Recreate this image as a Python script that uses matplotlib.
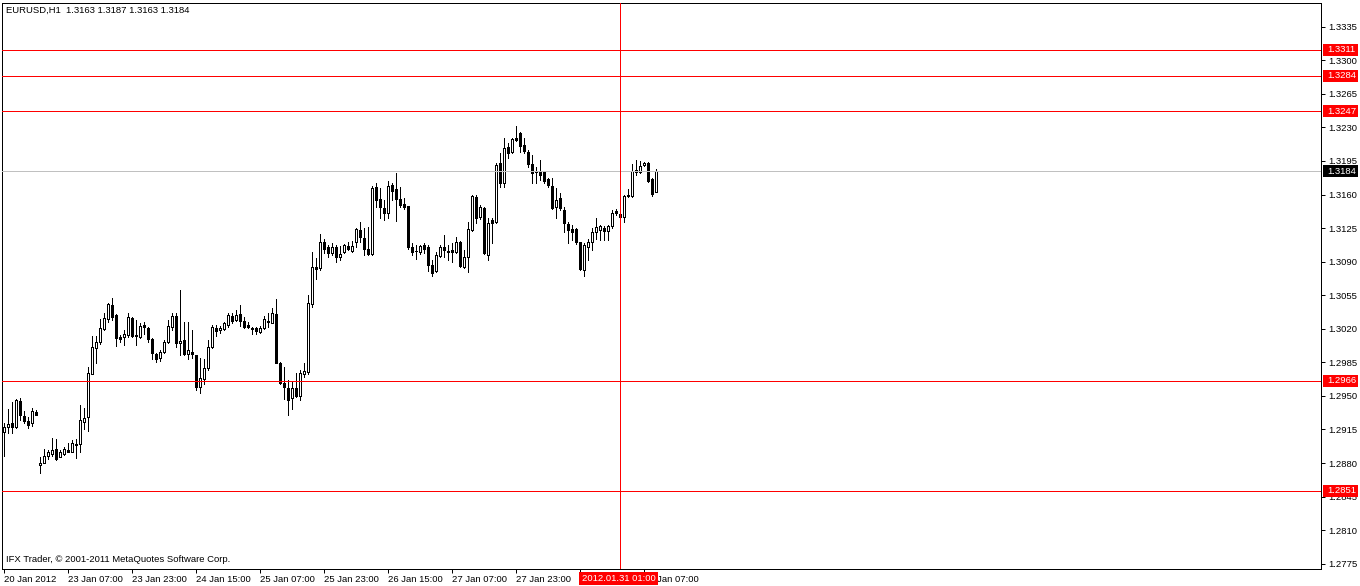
import numpy as np
import matplotlib.pyplot as plt
from matplotlib.patches import Rectangle
from matplotlib.transforms import blended_transform_factory, ScaledTranslation

# EURUSD H1 bars, 20 Jan 2012 15:00 .. 31 Jan 2012 10:00
opens = [1.2912, 1.2918, 1.2922, 1.2918, 1.2945, 1.2929, 1.2924, 1.2922, 1.2933,
         1.2878, 1.2880, 1.2887, 1.2889, 1.2895, 1.2886, 1.2889, 1.2894, 1.2891, 1.2900,
         1.2900, 1.2923, 1.2928, 1.2973, 1.3000, 1.3006, 1.3020, 1.3030, 1.3045, 1.3034,
         1.3011, 1.3011, 1.3013, 1.3031, 1.3013, 1.3011, 1.3024, 1.3021, 1.3009, 1.2994,
         1.2990, 1.2996, 1.3006, 1.3022, 1.3033, 1.3005, 1.3008, 1.2994, 1.2996, 1.2993,
         1.2959, 1.2968, 1.2979, 1.3001, 1.3021, 1.3019, 1.3020, 1.3024, 1.3033, 1.3029,
         1.3035, 1.3028, 1.3024, 1.3021, 1.3021, 1.3017, 1.3021, 1.3028, 1.3026, 1.3035,
         1.2984, 1.2963, 1.2958, 1.2948, 1.2958, 1.2950, 1.2973, 1.2975, 1.3046, 1.3084,
         1.3083, 1.3110, 1.3105, 1.3099, 1.3105, 1.3095, 1.3100, 1.3106, 1.3101, 1.3110,
         1.3123, 1.3115, 1.3103, 1.3098, 1.3168, 1.3155, 1.3146, 1.3141, 1.3170, 1.3166,
         1.3155, 1.3150, 1.3148, 1.3105, 1.3101, 1.3100, 1.3107, 1.3105, 1.3087, 1.3080,
         1.3096, 1.3105, 1.3101, 1.3102, 1.3100, 1.3110, 1.3084, 1.3095, 1.3123, 1.3157,
         1.3137, 1.3146, 1.3097, 1.3133, 1.3131, 1.3193, 1.3172, 1.3210, 1.3204, 1.3219,
         1.3224, 1.3212, 1.3204, 1.3192, 1.3185, 1.3185, 1.3183, 1.3176, 1.3169, 1.3147,
         1.3156, 1.3144, 1.3129, 1.3124, 1.3124, 1.3110, 1.3081, 1.3105, 1.3111, 1.3121,
         1.3123, 1.3125, 1.3122, 1.3127, 1.3143, 1.3140, 1.3137, 1.3158, 1.3158, 1.3183,
         1.3183, 1.3191, 1.3193, 1.3176, 1.3163]
highs = [1.2922, 1.2936, 1.2944, 1.2947, 1.2948, 1.2934, 1.2928, 1.2937, 1.2935,
         1.2886, 1.2895, 1.2894, 1.2906, 1.2905, 1.2894, 1.2897, 1.2901, 1.2904, 1.2905,
         1.2941, 1.2937, 1.2980, 1.3012, 1.3012, 1.3030, 1.3036, 1.3047, 1.3052, 1.3035,
         1.3013, 1.3019, 1.3036, 1.3032, 1.3029, 1.3026, 1.3027, 1.3022, 1.3010, 1.2995,
         1.2998, 1.3008, 1.3029, 1.3036, 1.3036, 1.3060, 1.3027, 1.3027, 1.3019, 1.2993,
         1.2990, 1.2988, 1.3008, 1.3024, 1.3024, 1.3023, 1.3027, 1.3036, 1.3036, 1.3040,
         1.3045, 1.3032, 1.3027, 1.3022, 1.3022, 1.3023, 1.3033, 1.3036, 1.3042, 1.3051,
         1.2985, 1.2980, 1.2967, 1.2964, 1.2974, 1.2977, 1.2984, 1.3055, 1.3100, 1.3094,
         1.3119, 1.3114, 1.3107, 1.3109, 1.3107, 1.3106, 1.3108, 1.3110, 1.3112, 1.3125,
         1.3131, 1.3125, 1.3126, 1.3169, 1.3172, 1.3167, 1.3154, 1.3174, 1.3172, 1.3182,
         1.3168, 1.3156, 1.3148, 1.3109, 1.3107, 1.3107, 1.3109, 1.3107, 1.3092, 1.3100,
         1.3107, 1.3118, 1.3107, 1.3109, 1.3116, 1.3112, 1.3102, 1.3131, 1.3159, 1.3159,
         1.3149, 1.3147, 1.3136, 1.3135, 1.3193, 1.3203, 1.3219, 1.3214, 1.3219, 1.3231,
         1.3225, 1.3219, 1.3206, 1.3201, 1.3189, 1.3196, 1.3184, 1.3177, 1.3177, 1.3167,
         1.3162, 1.3147, 1.3131, 1.3128, 1.3125, 1.3111, 1.3109, 1.3114, 1.3125, 1.3136,
         1.3128, 1.3127, 1.3128, 1.3144, 1.3145, 1.3144, 1.3160, 1.3166, 1.3192, 1.3196,
         1.3195, 1.3194, 1.3194, 1.3177, 1.3187]
lows = [1.2887, 1.2911, 1.2911, 1.2917, 1.2925, 1.2922, 1.2917, 1.2919, 1.2930,
        1.2870, 1.2880, 1.2884, 1.2887, 1.2883, 1.2886, 1.2888, 1.2892, 1.2891, 1.2885,
        1.2891, 1.2915, 1.2913, 1.2973, 1.2984, 1.3004, 1.3019, 1.3027, 1.3029, 1.3002,
        1.3006, 1.3003, 1.3011, 1.3011, 1.3003, 1.3010, 1.3015, 1.3006, 1.2988, 1.2985,
        1.2986, 1.2995, 1.3005, 1.3019, 1.3001, 1.2993, 1.2993, 1.2988, 1.2990, 1.2956,
        1.2953, 1.2962, 1.2977, 1.3000, 1.3012, 1.3016, 1.3019, 1.3022, 1.3026, 1.3028,
        1.3023, 1.3021, 1.3021, 1.3015, 1.3015, 1.3016, 1.3020, 1.3022, 1.3026, 1.2984,
        1.2962, 1.2947, 1.2930, 1.2936, 1.2949, 1.2946, 1.2970, 1.2973, 1.3043, 1.3072,
        1.3081, 1.3099, 1.3095, 1.3097, 1.3090, 1.3092, 1.3099, 1.3102, 1.3100, 1.3105,
        1.3110, 1.3097, 1.3097, 1.3097, 1.3147, 1.3136, 1.3133, 1.3136, 1.3154, 1.3132,
        1.3147, 1.3145, 1.3103, 1.3097, 1.3093, 1.3098, 1.3099, 1.3080, 1.3075, 1.3079,
        1.3095, 1.3095, 1.3092, 1.3090, 1.3099, 1.3084, 1.3083, 1.3079, 1.3122, 1.3130,
        1.3134, 1.3098, 1.3092, 1.3109, 1.3130, 1.3168, 1.3168, 1.3198, 1.3203, 1.3216,
        1.3204, 1.3203, 1.3189, 1.3172, 1.3172, 1.3175, 1.3172, 1.3168, 1.3145, 1.3135,
        1.3144, 1.3121, 1.3109, 1.3113, 1.3108, 1.3081, 1.3075, 1.3092, 1.3102, 1.3114,
        1.3113, 1.3113, 1.3113, 1.3125, 1.3139, 1.3136, 1.3131, 1.3157, 1.3157, 1.3180,
        1.3182, 1.3190, 1.3173, 1.3158, 1.3163]
closes = [1.2918, 1.2921, 1.2918, 1.2946, 1.2930, 1.2924, 1.2920, 1.2934, 1.2930,
          1.2880, 1.2887, 1.2891, 1.2894, 1.2884, 1.2891, 1.2895, 1.2892, 1.2901, 1.2899,
          1.2925, 1.2927, 1.2974, 1.3001, 1.3006, 1.3021, 1.3031, 1.3046, 1.3032, 1.3010,
          1.3009, 1.3015, 1.3032, 1.3012, 1.3012, 1.3023, 1.3022, 1.3009, 1.2995, 1.2988,
          1.2996, 1.3006, 1.3023, 1.3033, 1.3005, 1.3007, 1.2994, 1.2998, 1.2994, 1.2959,
          1.2969, 1.2979, 1.3001, 1.3022, 1.3018, 1.3021, 1.3026, 1.3034, 1.3028, 1.3034,
          1.3028, 1.3022, 1.3022, 1.3020, 1.3018, 1.3021, 1.3030, 1.3027, 1.3036, 1.2984,
          1.2963, 1.2959, 1.2946, 1.2958, 1.2950, 1.2974, 1.2976, 1.3047, 1.3084, 1.3082,
          1.3110, 1.3103, 1.3099, 1.3105, 1.3095, 1.3098, 1.3107, 1.3103, 1.3106, 1.3124,
          1.3116, 1.3103, 1.3098, 1.3167, 1.3154, 1.3147, 1.3141, 1.3169, 1.3164, 1.3155,
          1.3149, 1.3147, 1.3105, 1.3100, 1.3101, 1.3106, 1.3103, 1.3087, 1.3078, 1.3097,
          1.3105, 1.3102, 1.3100, 1.3100, 1.3110, 1.3085, 1.3095, 1.3124, 1.3158, 1.3135,
          1.3147, 1.3099, 1.3130, 1.3130, 1.3191, 1.3172, 1.3208, 1.3203, 1.3218, 1.3217,
          1.3211, 1.3205, 1.3192, 1.3182, 1.3183, 1.3180, 1.3174, 1.3170, 1.3146, 1.3154,
          1.3146, 1.3130, 1.3123, 1.3121, 1.3110, 1.3082, 1.3107, 1.3111, 1.3121, 1.3126,
          1.3127, 1.3122, 1.3127, 1.3141, 1.3141, 1.3137, 1.3158, 1.3160, 1.3185, 1.3186,
          1.3190, 1.3193, 1.3174, 1.3161, 1.3184]

date_ticks = [0, 16, 32, 48, 64, 80, 96, 112, 128, 144, 160]
date_labels = ['20 Jan 2012', '23 Jan 07:00', '23 Jan 23:00', '24 Jan 15:00', '25 Jan 07:00',
               '25 Jan 23:00', '26 Jan 15:00', '27 Jan 07:00', '27 Jan 23:00', '',
               '31 Jan 07:00']
price_ticks = [1.3335, 1.3300, 1.3265, 1.3230, 1.3195, 1.3160, 1.3125, 1.3090, 1.3055,
               1.3020, 1.2985, 1.2950, 1.2915, 1.2880, 1.2845, 1.2810, 1.2775]
red_levels = [1.3311, 1.3284, 1.3247, 1.2966, 1.2851]
bid = 1.3184
cross_bar = 154
cross_label = '2012.01.31 01:00'
title = 'EURUSD,H1  1.3163 1.3187 1.3163 1.3184'
footer = 'IFX Trader, \u00a9 2001-2011 MetaQuotes Software Corp.'

plt.rcParams['font.family'] = ['Liberation Sans', 'DejaVu Sans']
fs = 6.8
px = 0.72  # one pixel in points at 100 dpi

fig = plt.figure(figsize=(13.6, 5.86), dpi=100)
ax = fig.add_axes([2 / 1360, 17 / 586, 1319 / 1360, 566 / 586])

o = np.array(opens)
h = np.array(highs)
l = np.array(lows)
c = np.array(closes)
x = np.arange(len(o))
up = c >= o

# candles: wick then body
ax.vlines(x, l, h, color='black', lw=px, zorder=2, antialiased=False)
body_bottom = np.minimum(o, c)
body_height = np.maximum(np.abs(c - o), 0.00002)
ax.bar(x, body_height, 0.5, body_bottom, color=np.where(up, 'white', 'black'),
       edgecolor='black', linewidth=px, zorder=3, antialiased=False)

# objects on top of the chart
for lev in red_levels:
    ax.axhline(lev, color='red', lw=px, zorder=4, antialiased=False)
ax.axhline(bid, color='#c0c0c0', lw=px, zorder=4, antialiased=False)
ax.axvline(cross_bar, color='red', lw=px, zorder=4, antialiased=False)

ax.set_xlim(-0.5, 329.25)
ax.set_ylim(1.27695, 1.33597)

ax.yaxis.tick_right()
ax.set_yticks(price_ticks, ['%.4f' % p for p in price_ticks])
ax.set_xticks(date_ticks, date_labels)
shift = ScaledTranslation(-2 / 100, 0, fig.dpi_scale_trans)
for lab in ax.get_xticklabels():
    lab.set_ha('left')
    lab.set_transform(lab.get_transform() + shift)
ax.tick_params(axis='y', length=3, width=px, pad=2, labelsize=fs)
ax.tick_params(axis='x', length=3, width=px, pad=1, labelsize=fs)
for s in ax.spines.values():
    s.set_linewidth(px)

# price labels on the right scale
ty = blended_transform_factory(ax.transAxes, ax.transData)
box_h = 12 / 9590
for lev, col in [(v, 'red') for v in red_levels] + [(bid, 'black')]:
    ax.add_patch(Rectangle((1.0015, lev - box_h / 2), 0.0265, box_h, transform=ty,
                           facecolor=col, edgecolor='none', clip_on=False, zorder=10))
    ax.text(1.0045, lev, '%.4f' % lev, transform=ty, color='white', fontsize=fs,
            va='center', ha='left', clip_on=False, zorder=11)

# crosshair time label
tx = blended_transform_factory(ax.transData, ax.transAxes)
ax.add_patch(Rectangle((143.75, -0.0283), 19.75, 0.023, transform=tx, facecolor='red',
                       edgecolor='none', clip_on=False, zorder=10))
ax.text(cross_bar - 0.3, -0.0168, cross_label, transform=tx, color='white', fontsize=fs,
        ha='center', va='center', clip_on=False, zorder=11)

ax.text(0.003, 0.9876, title, transform=ax.transAxes, fontsize=fs, va='center', ha='left')
ax.text(0.003, 0.016, footer, transform=ax.transAxes, fontsize=fs, va='center', ha='left')

fig.savefig('out.png', dpi=100)
